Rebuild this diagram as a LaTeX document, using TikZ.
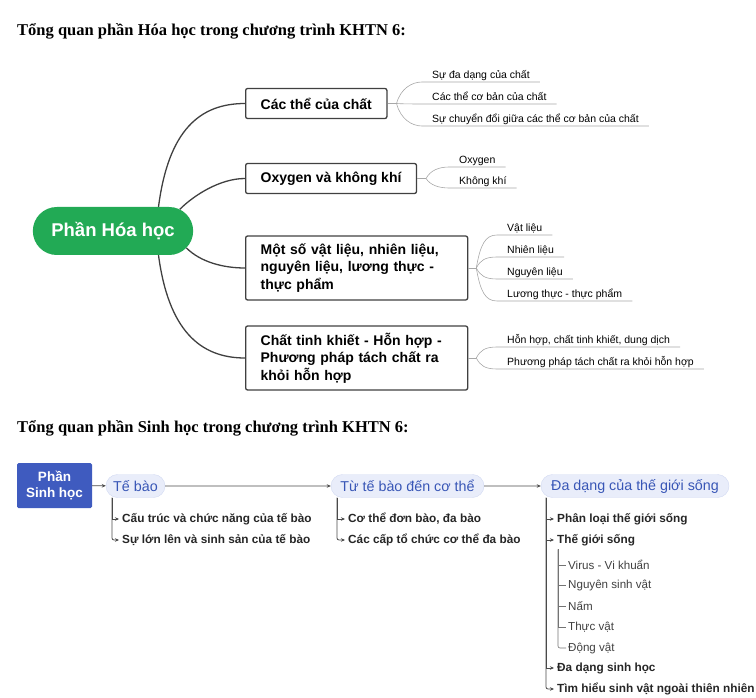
\documentclass[tikz,border=0pt]{standalone}
\usepackage{fontspec}
\setmainfont{Liberation Serif}
\setsansfont{Liberation Sans}
\usetikzlibrary{arrows.meta,
                shapes.misc,
                calc}

\definecolor{hoagreen}{HTML}{22AA55}
\definecolor{sinhblue}{HTML}{3F5BBF}
\definecolor{boxgray}{HTML}{404040}
\definecolor{twiggray}{HTML}{A8A8A8}
\definecolor{pillfill}{HTML}{E9EDFA}
\definecolor{pillline}{HTML}{D2DAF2}
\definecolor{pilltext}{HTML}{3856B6}
\definecolor{flowgray}{HTML}{4A4A4A}

\tikzset{
 title/.style={font=\bfseries\fontsize{16.5}{19}\selectfont, anchor=base west, inner sep=0pt},
 topic/.style={draw=boxgray, line width=1.3pt, rounded corners=2pt, anchor=west,
               font=\sffamily\bfseries\fontsize{14}{17.5}\selectfont,
               inner xsep=15pt, minimum height=30pt},
 leaf/.style={font=\sffamily\fontsize{10.5}{12}\selectfont, anchor=south west,
              inner xsep=10pt, inner ysep=1pt, text depth=2pt},
 branch/.style={draw=boxgray, line width=1.3pt},
 twig/.style={draw=twiggray, line width=0.6pt},
 pill/.style={rounded rectangle, draw=pillline, fill=pillfill, text=pilltext,
              font=\sffamily\fontsize{14.3}{16}\selectfont, minimum height=23pt, inner xsep=4pt},
 item/.style={font=\sffamily\bfseries\fontsize{11.8}{13}\selectfont, text=black!85, anchor=west, inner xsep=3pt},
 subitem/.style={font=\sffamily\fontsize{11.6}{13}\selectfont, text=black!75, anchor=west, inner xsep=2pt},
 flow/.style={draw=flowgray, line width=0.8pt, -{Stealth[length=4pt,width=3.5pt]}},
 thin flow/.style={draw=black!55, line width=0.6pt}
}

\begin{document}
\begin{tikzpicture}[x=1pt, y=-1pt]
 \useasboundingbox (0,0) rectangle (756,698);

 \node[title] (t1) at (17,36) {Tổng quan phần Hóa học trong chương trình KHTN 6:};
 \node[rounded rectangle, fill=hoagreen, text=white, minimum width=167pt, minimum height=48pt,
       font=\sffamily\bfseries\fontsize{18.5}{20}\selectfont] (hoa) at (113,231) {Phần Hóa học};

 \node[topic] (state) at (245,103.5) {Các thể của chất};
 \node[topic] (air) at (245,178.5) {Oxygen và không khí};
 \node[topic, text width=192pt, align=left, minimum height=64pt] (matl) at (245,268)
   {Một số vật liệu, nhiên liệu,\\ nguyên liệu, lương thực -\\ thực phẩm};
 \node[topic, text width=192pt, align=left, minimum height=64pt] (mix) at (245,358)
   {Chất tinh khiết - Hỗn hợp -\\ Phương pháp tách chất ra\\ khỏi hỗn hợp};

 \draw[branch] (hoa.28) .. controls +(10,-77) and +(-45,0) .. (state.west);
 \draw[branch] (hoa.18) .. controls +(14,-14) and +(-25,0) .. (air.west);
 \draw[branch] (hoa.-13) .. controls +(14,14) and +(-22,0) .. (matl.west);
 \draw[branch] (hoa.-28) .. controls +(10,75) and +(-45,0) .. (mix.west);

 \coordinate (bA) at ([xshift=9pt]state.east);
 \coordinate (bB) at ([xshift=9pt]air.east);
 \coordinate (bC) at ([xshift=8pt]matl.east);
 \coordinate (bD) at ([xshift=8pt]mix.east);
 \draw[twig] (state.east) -- (bA);
 \draw[twig] (air.east) -- (bB);
 \draw[twig] (matl.east) -- (bC);
 \draw[twig] (mix.east) -- (bD);

 \foreach \t [count=\i] in {Sự đa dạng của chất, Các thể cơ bản của chất,
                            Sự chuyển đổi giữa các thể cơ bản của chất}
  \node[leaf] (a\i) at (422,60+22*\i) {\t};
 \foreach \t [count=\i] in {Oxygen, Không khí}
  \node[leaf] (b\i) at (449,146+21*\i) {\t};
 \foreach \t [count=\i] in {Vật liệu, Nhiên liệu, Nguyên liệu, Lương thực - thực phẩm}
  \node[leaf] (c\i) at (497,213+22*\i) {\t};
 \foreach \t [count=\i] in {{Hỗn hợp, chất tinh khiết, dung dịch},
                            Phương pháp tách chất ra khỏi hỗn hợp}
  \node[leaf] (d\i) at (497,325+22*\i) {\t};

 \foreach \i in {1,2,3}
  \draw[twig] (bA) .. controls +(4,{0.7*(22*\i-43.5)}) and +(-10,0) .. (a\i.south west) -- (a\i.south east);
 \foreach \i in {1,2}
  \draw[twig] (bB) .. controls +(4,{0.7*(21*\i-32.5)}) and +(-10,0) .. (b\i.south west) -- (b\i.south east);
 \foreach \i in {1,...,4}
  \draw[twig] (bC) .. controls +(4,{0.7*(22*\i-55)}) and +(-12,0) .. (c\i.south west) -- (c\i.south east);
 \foreach \i in {1,2}
  \draw[twig] (bD) .. controls +(4,{0.7*(22*\i-33)}) and +(-12,0) .. (d\i.south west) -- (d\i.south east);

 \node[title] (t2) at (17,432) {Tổng quan phần Sinh học trong chương trình KHTN 6:};
 \node[fill=sinhblue, text=white, rounded corners=1.5pt, minimum width=75pt, minimum height=45pt,
       align=center, font=\sffamily\bfseries\fontsize{13.5}{16}\selectfont] (sinh) at (54.5,485.5) {Phần\\Sinh học};
 \node[pill, minimum width=67pt] (cell) at (135.5,486) {Tế bào};
 \node[pill, minimum width=161pt] (body) at (407.5,486) {Từ tế bào đến cơ thể};
 \node[pill, minimum width=196pt] (life) at (635,486) {Đa dạng của thế giới sống};
 \draw[flow] (sinh) -- (cell);
 \draw[flow] (cell) -- (body);
 \draw[flow] (body) -- (life);

 \node[item] (p1) at (119,519) {Cấu trúc và chức năng của tế bào};
 \node[item] (p2) at (119,540) {Sự lớn lên và sinh sản của tế bào};
 \node[item] (q1) at (345,519) {Cơ thể đơn bào, đa bào};
 \node[item] (q2) at (345,540) {Các cấp tổ chức cơ thể đa bào};
 \node[item] (r1) at (554,519) {Phân loại thế giới sống};
 \node[item] (r2) at (554,540) {Thế giới sống};
 \node[item] (r3) at (554,668) {Đa dạng sinh học};
 \node[item] (r4) at (554,689) {Tìm hiểu sinh vật ngoài thiên nhiên};
 \foreach \t [count=\i] in {Virus - Vi khuẩn, Nguyên sinh vật, Nấm, Thực vật, Động vật}
  \node[subitem] (s\i) at (566,544.25+20.75*\i) {\t};

 \draw[flow] ([xshift=-23.5pt]cell.south) |- (p1.west);
 \draw[flow, rounded corners=2pt] ([xshift=-23.5pt]cell.south) |- (p2.west);
 \draw[flow] ([xshift=-70.5pt]body.south) |- (q1.west);
 \draw[flow, rounded corners=2pt] ([xshift=-70.5pt]body.south) |- (q2.west);
 \foreach \i in {1,2,3}
  \draw[flow] ([xshift=-89pt]life.south) |- (r\i.west);
 \draw[flow, rounded corners=2pt] ([xshift=-89pt]life.south) |- (r4.west);
 \foreach \i in {1,...,4}
  \draw[thin flow] ([xshift=4pt]r2.south west) |- (s\i.west);
 \draw[thin flow, rounded corners=2pt] ([xshift=4pt]r2.south west) |- (s5.west);
\end{tikzpicture}
\end{document}
